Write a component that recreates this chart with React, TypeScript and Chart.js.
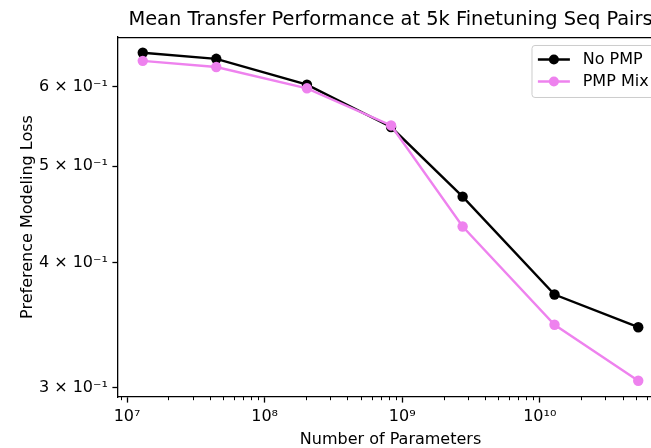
import React, { useEffect, useRef } from 'react';
import { Chart, registerables } from 'chart.js';

Chart.register(...registerables);

// ---- data ----
const params = [1.3e7, 4.45e7, 2.03e8, 8.3e8, 2.75e9, 1.28e10, 5.2e10];
const noPmp = [0.649, 0.640, 0.603, 0.547, 0.466, 0.372, 0.345];
const pmpMix = [0.637, 0.628, 0.598, 0.549, 0.435, 0.347, 0.305];
const seriesLabels = ['No PMP', 'PMP Mix'];
const xTickValues = [1e7, 1e8, 1e9, 1e10];
const xTickLabels = ['10⁷', '10⁸', '10⁹', '10¹⁰'];
const yTickValues = [0.3, 0.4, 0.5, 0.6];
const yTickLabels = ['3 × 10⁻¹', '4 × 10⁻¹', '5 × 10⁻¹', '6 × 10⁻¹'];
const titleText = 'Mean Transfer Performance at 5k Finetuning Seq Pairs';
const xTitle = 'Number of Parameters';
const yTitle = 'Preference Modeling Loss';
const xRange = [8.59e6, 7.87e10];
const yRange = [0.2938, 0.673];

const FONT = '"DejaVu Sans", sans-serif';
const BLACK = '#000000';
const VIOLET = '#ee82ee';

function lookupLabel(values: number[], labels: string[], v: number) {
  for (let i = 0; i < values.length; i++) {
    if (Math.abs(Math.log10(values[i]) - Math.log10(v)) < 1e-6) return labels[i];
  }
  return '';
}

const extrasPlugin = {
  id: 'mplExtras',
  afterDraw(chart: any) {
    const ctx = chart.ctx;
    const { left, right, top, bottom } = chart.chartArea;
    ctx.save();
    // top and right spines
    ctx.strokeStyle = BLACK;
    ctx.lineWidth = 1.3;
    ctx.beginPath();
    ctx.moveTo(left, top + 0.65);
    ctx.lineTo(right, top + 0.65);
    ctx.moveTo(right, top);
    ctx.lineTo(right, bottom);
    ctx.stroke();
    // minor x ticks
    const xs = chart.scales.x;
    ctx.lineWidth = 1;
    ctx.beginPath();
    for (let e = 6; e <= 10; e++) {
      for (let k = 2; k <= 9; k++) {
        const v = k * Math.pow(10, e);
        if (v < xs.min || v > xs.max) continue;
        const px = Math.round(xs.getPixelForValue(v)) + 0.5;
        ctx.moveTo(px, bottom);
        ctx.lineTo(px, bottom + 3.2);
      }
    }
    ctx.stroke();

    // legend (matplotlib style, upper right)
    const em = 16;
    ctx.font = `16px ${FONT}`;
    const ds = chart.data.datasets;
    const tw = Math.max(...ds.map((d: any) => ctx.measureText(d.label).width));
    const w = 0.4 * em + 2 * em + 0.8 * em + tw + 0.4 * em;
    const bx = right - 8 - w;
    const by = top + 8;
    const rowGap = 22;
    const bh = 14.5 + rowGap * (ds.length - 1) + 15.5;
    ctx.beginPath();
    ctx.roundRect(bx + 0.5, by + 0.5, w, bh, 3);
    ctx.fillStyle = 'rgba(255,255,255,0.8)';
    ctx.fill();
    ctx.strokeStyle = '#cccccc';
    ctx.lineWidth = 1;
    ctx.stroke();
    ds.forEach((d: any, i: number) => {
      const cy = by + 14.5 + i * rowGap;
      const x0 = bx + 0.4 * em;
      ctx.strokeStyle = d.borderColor;
      ctx.lineWidth = 2.4;
      ctx.beginPath();
      ctx.moveTo(x0, cy);
      ctx.lineTo(x0 + 2 * em, cy);
      ctx.stroke();
      ctx.fillStyle = d.borderColor;
      ctx.beginPath();
      ctx.arc(x0 + em, cy, 5, 0, Math.PI * 2);
      ctx.fill();
      ctx.fillStyle = BLACK;
      ctx.textBaseline = 'middle';
      ctx.textAlign = 'left';
      ctx.fillText(d.label, x0 + 2.8 * em, cy);
    });
    ctx.restore();
  },
};

export default function App() {
  const ref = useRef<HTMLCanvasElement>(null);
  useEffect(() => {
    if (!ref.current) return;
    const mk = (ys: number[]) => params.map((x, i) => ({ x, y: ys[i] }));
    const chart = new Chart(ref.current, {
      type: 'line',
      data: {
        datasets: [
          {
            label: seriesLabels[0],
            data: mk(noPmp),
            borderColor: BLACK,
            backgroundColor: BLACK,
            pointBackgroundColor: BLACK,
            pointBorderWidth: 0,
            pointRadius: 5.2,
            borderWidth: 2.4,
            tension: 0,
            order: 1,
          },
          {
            label: seriesLabels[1],
            data: mk(pmpMix),
            borderColor: VIOLET,
            backgroundColor: VIOLET,
            pointBackgroundColor: VIOLET,
            pointBorderWidth: 0,
            pointRadius: 5.2,
            borderWidth: 2.4,
            tension: 0,
            order: 0,
          },
        ],
      },
      options: {
        animation: false,
        responsive: false,
        devicePixelRatio: 1,
        events: [],
        layout: { padding: 0 },
        plugins: {
          legend: { display: false },
          tooltip: { enabled: false },
          title: {
            display: true,
            text: titleText,
            color: BLACK,
            font: { family: FONT, size: 19.4, weight: 'normal', lineHeight: 1.2 },
            padding: { top: 8.4, bottom: 5.3 },
          },
        },
        scales: {
          x: {
            type: 'logarithmic',
            position: 'bottom',
            min: xRange[0],
            max: xRange[1],
            bounds: 'data',
            afterBuildTicks: (s: any) => {
              s.ticks = xTickValues.map((v) => ({ value: v }));
            },
            afterFit: (s: any) => {
              s.height = 51;
            },
            grid: {
              display: true,
              drawOnChartArea: false,
              drawTicks: true,
              tickLength: 5.6,
              tickWidth: 1.3,
              tickColor: BLACK,
            },
            border: { display: true, color: BLACK, width: 1.3 },
            ticks: {
              autoSkip: false,
              maxRotation: 0,
              padding: 5,
              color: BLACK,
              font: { family: FONT, size: 16 },
              callback: (v: any) => lookupLabel(xTickValues, xTickLabels, Number(v)),
            },
            title: {
              display: true,
              text: xTitle,
              color: BLACK,
              font: { family: FONT, size: 16, lineHeight: 1 },
              padding: { top: 0, bottom: 0.5 },
            },
          },
          y: {
            type: 'logarithmic',
            position: 'left',
            min: yRange[0],
            max: yRange[1],
            bounds: 'data',
            afterBuildTicks: (s: any) => {
              s.ticks = yTickValues.map((v) => ({ value: v }));
            },
            afterFit: (s: any) => {
              s.width = 118;
            },
            grid: {
              display: true,
              drawOnChartArea: false,
              drawTicks: true,
              tickLength: 5.6,
              tickWidth: 1.3,
              tickColor: BLACK,
            },
            border: { display: true, color: BLACK, width: 1.3 },
            ticks: {
              autoSkip: false,
              padding: 4.5,
              color: BLACK,
              font: { family: FONT, size: 16 },
              callback: (v: any) => lookupLabel(yTickValues, yTickLabels, Number(v)),
            },
            title: {
              display: true,
              text: yTitle,
              color: BLACK,
              font: { family: FONT, size: 16 },
              padding: { top: 18.3, bottom: 0 },
            },
          },
          yR: {
            type: 'linear',
            position: 'right',
            display: true,
            grid: { display: false },
            border: { display: false },
            ticks: { display: false },
            afterFit: (s: any) => {
              s.width = 118;
            },
          },
        },
      },
      plugins: [extrasPlugin],
    } as any);
    return () => chart.destroy();
  }, []);

  return (
    <div
      style={{
        position: 'fixed',
        left: 0,
        top: 0,
        width: 651,
        height: 448,
        overflow: 'hidden',
        background: '#ffffff',
      }}
    >
      <canvas ref={ref} width={781} height={448} style={{ display: 'block' }} />
    </div>
  );
}
